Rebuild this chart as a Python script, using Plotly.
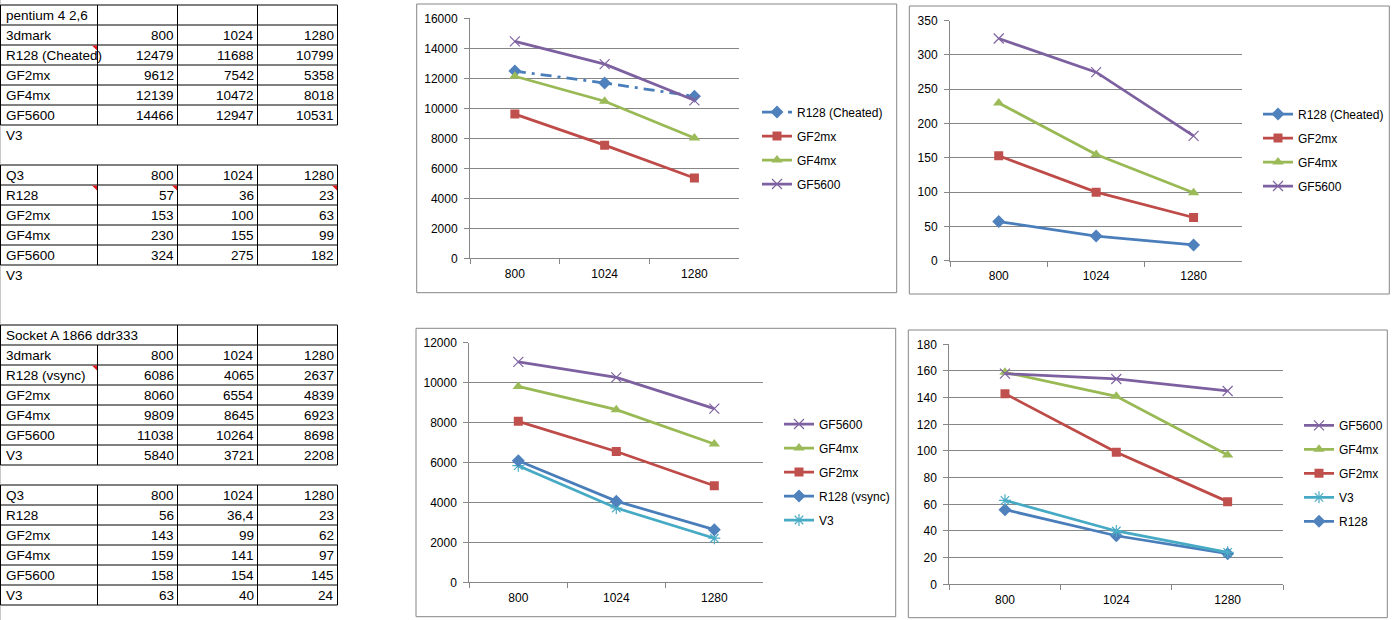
import plotly.graph_objects as go

W, H = 1399, 620

# ---------------- data ----------------
resolutions = [800, 1024, 1280]
res_labels = ["800", "1024", "1280"]

# Pentium 4 2,6 - 3dmark
p4_title = "pentium 4 2,6"
p4_3d_names = ["R128 (Cheated)", "GF2mx", "GF4mx", "GF5600"]
p4_3d_r128 = [12479, 11688, 10799]
p4_3d_gf2 = [9612, 7542, 5358]
p4_3d_gf4 = [12139, 10472, 8018]
p4_3d_gf56 = [14466, 12947, 10531]

# Pentium 4 2,6 - Q3
p4_q3_names = ["R128", "GF2mx", "GF4mx", "GF5600"]
p4_q3_r128 = [57, 36, 23]
p4_q3_gf2 = [153, 100, 63]
p4_q3_gf4 = [230, 155, 99]
p4_q3_gf56 = [324, 275, 182]

# Socket A 1866 ddr333 - 3dmark
sa_title = "Socket A 1866 ddr333"
sa_3d_names = ["R128 (vsync)", "GF2mx", "GF4mx", "GF5600", "V3"]
sa_3d_r128 = [6086, 4065, 2637]
sa_3d_gf2 = [8060, 6554, 4839]
sa_3d_gf4 = [9809, 8645, 6923]
sa_3d_gf56 = [11038, 10264, 8698]
sa_3d_v3 = [5840, 3721, 2208]

# Socket A 1866 ddr333 - Q3
sa_q3_names = ["R128", "GF2mx", "GF4mx", "GF5600", "V3"]
sa_q3_r128 = [56, 36.4, 23]
sa_q3_gf2 = [143, 99, 62]
sa_q3_gf4 = [159, 141, 97]
sa_q3_gf56 = [158, 154, 145]
sa_q3_v3 = [63, 40, 24]

# ---------------- helpers ----------------
def px(x):
    return x / W

def py(y):
    return 1 - y / H

def fmt(v):
    s = ("%g" % v)
    return s.replace(".", ",")

FONT = "Liberation Sans"
shapes = []
annotations = []

COL_X = [0.5, 97.5, 177.5, 257.5, 337.5]
ROW_Y0 = 5
ROW_H = 20

def row_top(i):
    return ROW_Y0 + ROW_H * i

def hline(x0, x1, y, color="#000000", w=1):
    shapes.append(dict(type="line", xref="paper", yref="paper",
                       x0=px(x0), x1=px(x1), y0=py(y), y1=py(y),
                       line=dict(color=color, width=w)))

def vline(x, y0, y1, color="#000000", w=1):
    shapes.append(dict(type="line", xref="paper", yref="paper",
                       x0=px(x), x1=px(x), y0=py(y0), y1=py(y1),
                       line=dict(color=color, width=w)))

def text(x, y, s, anchor="left", size=13.5, color="#000000"):
    annotations.append(dict(xref="paper", yref="paper", x=px(x), y=py(y),
                            text=s, showarrow=False, xanchor=anchor,
                            yanchor="middle",
                            font=dict(family=FONT, size=size, color=color)))

def comment_mark(col, row):
    xr = COL_X[col + 1] - 0.5
    yt = row_top(row) + 0.5
    path = "M %f %f L %f %f L %f %f Z" % (px(xr - 5), py(yt), px(xr), py(yt), px(xr), py(yt + 5))
    shapes.append(dict(type="path", xref="paper", yref="paper", path=path,
                       fillcolor="#E02020", line=dict(width=0)))

def table(first_row, rows, merged_first=False):
    """rows: list of lists of cell strings (4 cells each)."""
    n = len(rows)
    for i in range(n + 1):
        hline(COL_X[0], COL_X[-1], row_top(first_row + i))
    for i, r in enumerate(rows):
        y0 = row_top(first_row + i)
        y1 = y0 + ROW_H
        for c, xe in enumerate(COL_X):
            if merged_first and i == 0 and c == 1:
                continue
            vline(xe, y0, y1)
        yc = y0 + ROW_H / 2 + 0.5
        for c, s in enumerate(r):
            if s == "":
                continue
            if c == 0:
                text(COL_X[0] + 3, yc, s, "left")
            else:
                text(COL_X[c + 1] - 2, yc, s, "right")

# light gray left sheet edge
vline(0.5, 0, H, color="#c8c8c8")

# table 1
t1 = [[p4_title, "", "", ""], ["3dmark"] + res_labels]
for nm, vals in zip(p4_3d_names, [p4_3d_r128, p4_3d_gf2, p4_3d_gf4, p4_3d_gf56]):
    t1.append([nm] + [fmt(v) for v in vals])
table(0, t1)
text(COL_X[0] + 3, row_top(6) + 10.5, "V3")
comment_mark(0, 2)

# table 2
t2 = [["Q3"] + res_labels]
for nm, vals in zip(p4_q3_names, [p4_q3_r128, p4_q3_gf2, p4_q3_gf4, p4_q3_gf56]):
    t2.append([nm] + [fmt(v) for v in vals])
table(8, t2)
text(COL_X[0] + 3, row_top(13) + 10.5, "V3")
comment_mark(0, 9)
comment_mark(1, 9)
comment_mark(3, 9)

# table 3
t3 = [[sa_title, "", "", ""], ["3dmark"] + res_labels]
for nm, vals in zip(sa_3d_names, [sa_3d_r128, sa_3d_gf2, sa_3d_gf4, sa_3d_gf56, sa_3d_v3]):
    t3.append([nm] + [fmt(v) for v in vals])
table(16, t3, merged_first=True)
comment_mark(0, 18)

# table 4
t4 = [["Q3"] + res_labels]
for nm, vals in zip(sa_q3_names, [sa_q3_r128, sa_q3_gf2, sa_q3_gf4, sa_q3_gf56, sa_q3_v3]):
    t4.append([nm] + [fmt(v) for v in vals])
table(24, t4)

# ---------------- charts ----------------
BLUE, RED, GREEN, PURPLE, CYAN = "#4A7EBB", "#BE4B48", "#98B954", "#7D60A0", "#46AAC5"
MK = {
    "blue": dict(symbol="diamond", size=10, color="#4F81BD", line=dict(width=0)),
    "red": dict(symbol="square", size=9, color="#C0504D", line=dict(width=0)),
    "green": dict(symbol="triangle-up", size=10, color="#9BBB59", line=dict(width=0)),
    "purple": dict(symbol="x-thin-open", size=10, color="#8064A2", line=dict(width=1.2, color="#8064A2")),
    "cyan": dict(symbol="asterisk-open", size=10, color="#4BACC6", line=dict(width=1.2, color="#4BACC6")),
}
LC = {"blue": BLUE, "red": RED, "green": GREEN, "purple": PURPLE, "cyan": CYAN}

fig = go.Figure()

def add(idx, yvals, name, style, rank, dash="solid"):
    sfx = "" if idx == 1 else str(idx)
    fig.add_trace(go.Scatter(
        x=res_labels, y=yvals, name=name, mode="lines+markers",
        line=dict(color=LC[style], width=2.75, dash=dash),
        marker=MK[style], xaxis="x" + sfx, yaxis="y" + sfx,
        legend="legend" + sfx, legendgroup="g%d_%d" % (idx, rank),
        legendrank=rank, showlegend=True, hoverinfo="x+y+name"))

DASHDOT = "11px,6px,3px,6px"
add(1, p4_3d_r128, p4_3d_names[0], "blue", 1, DASHDOT)
add(1, p4_3d_gf2, p4_3d_names[1], "red", 2)
add(1, p4_3d_gf4, p4_3d_names[2], "green", 3)
add(1, p4_3d_gf56, p4_3d_names[3], "purple", 4)

add(2, p4_q3_r128, "R128 (Cheated)", "blue", 1)
add(2, p4_q3_gf2, p4_q3_names[1], "red", 2)
add(2, p4_q3_gf4, p4_q3_names[2], "green", 3)
add(2, p4_q3_gf56, p4_q3_names[3], "purple", 4)

add(3, sa_3d_v3, sa_3d_names[4], "cyan", 5)
add(3, sa_3d_r128, sa_3d_names[0], "blue", 4)
add(3, sa_3d_gf2, sa_3d_names[1], "red", 3)
add(3, sa_3d_gf4, sa_3d_names[2], "green", 2)
add(3, sa_3d_gf56, sa_3d_names[3], "purple", 1)

add(4, sa_q3_r128, sa_q3_names[0], "blue", 5)
add(4, sa_q3_v3, sa_q3_names[4], "cyan", 4)
add(4, sa_q3_gf2, sa_q3_names[1], "red", 3)
add(4, sa_q3_gf4, sa_q3_names[2], "green", 2)
add(4, sa_q3_gf56, sa_q3_names[3], "purple", 1)

GRID = "#868686"
charts = [
    dict(frame=(416.7, 4, 896.7, 292.7), plot=(470, 18.3, 739.3, 258.3), ymax=16000, dy=2000, lx=757, ly=148),
    dict(frame=(909.3, 6, 1389.3, 294), plot=(950, 20.7, 1242.3, 260.7), ymax=350, dy=50, lx=1258, ly=150),
    dict(frame=(416, 328.3, 895.7, 616.7), plot=(469.3, 342.7, 763.3, 582.3), ymax=12000, dy=2000, lx=779, ly=472),
    dict(frame=(908.3, 330, 1387.3, 617.7), plot=(949.3, 344.3, 1283.3, 584.3), ymax=180, dy=20, lx=1299, ly=473.3),
]

layout = dict(width=W, height=H, margin=dict(l=0, r=0, t=0, b=0, pad=0, autoexpand=False),
              paper_bgcolor="white", plot_bgcolor="white",
              font=dict(family=FONT, size=12, color="#000000"))

for i, c in enumerate(charts, start=1):
    sfx = "" if i == 1 else str(i)
    fl, ft, fr, fb = c["frame"]
    shapes.append(dict(type="rect", xref="paper", yref="paper",
                       x0=px(fl), x1=px(fr), y0=py(fb), y1=py(ft),
                       line=dict(color=GRID, width=1), fillcolor="rgba(0,0,0,0)", layer="below"))
    l, t, r, b = c["plot"]
    layout["xaxis" + sfx] = dict(
        domain=[px(l), px(r)], anchor="y" + sfx, type="category",
        range=[-0.5, 2.5], tickson="boundaries", ticks="outside", ticklen=5,
        tickcolor=GRID, showline=True, linecolor=GRID, linewidth=1,
        showgrid=False, zeroline=False, ticklabelstandoff=4, automargin=False,
        tickfont=dict(family=FONT, size=12, color="#000000"), fixedrange=True)
    layout["yaxis" + sfx] = dict(
        domain=[py(b), py(t)], anchor="x" + sfx, range=[0, c["ymax"]],
        tickmode="linear", tick0=0, dtick=c["dy"], ticks="outside", ticklen=5,
        tickcolor=GRID, showline=True, linecolor=GRID, linewidth=1,
        showgrid=True, gridcolor=GRID, gridwidth=1, zeroline=False,
        ticklabelstandoff=4, tickformat="d", automargin=False,
        tickfont=dict(family=FONT, size=12, color="#000000"), fixedrange=True)
    layout["legend" + sfx] = dict(
        x=px(c["lx"]), xanchor="left", y=py(c["ly"]), yanchor="middle",
        xref="paper", yref="paper", bgcolor="rgba(0,0,0,0)", borderwidth=0,
        traceorder="grouped", tracegroupgap=5,
        font=dict(family=FONT, size=12, color="#000000"))

layout["shapes"] = shapes
layout["annotations"] = annotations
layout["showlegend"] = True
fig.update_layout(**layout)

fig.write_html("out.html", config={"displayModeBar": False},
               post_script="document.body.style.margin='0';document.body.style.padding='0';document.body.style.overflow='hidden';")
